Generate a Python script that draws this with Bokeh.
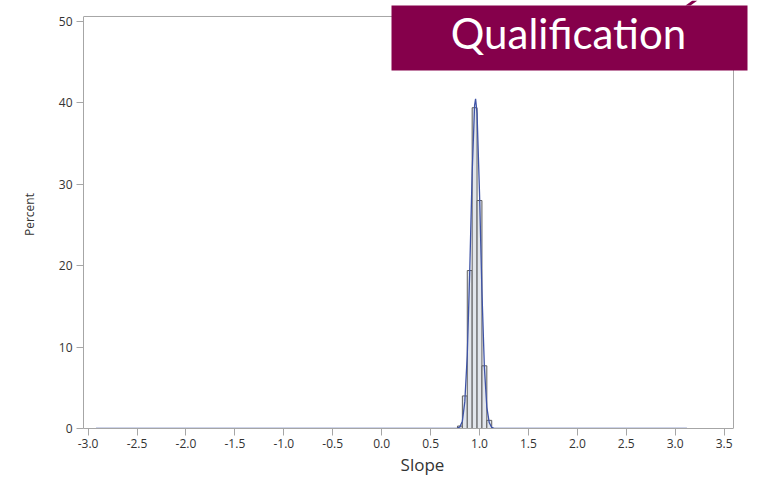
from bokeh.plotting import figure
from bokeh.models import (FixedTicker, PrintfTickFormatter, Label, Range1d, ColumnDataSource,
                          BoxAnnotation, PolyAnnotation, Title)
from bokeh.embed import file_html
from bokeh.resources import INLINE

# ---- data ----
bin_centers = [0.80, 0.85, 0.90, 0.95, 1.00, 1.05, 1.10]
bin_percent = [0.3, 4.0, 19.4, 39.4, 28.0, 7.7, 1.0]
bin_width = 0.05

curve_x = [-2.92, 0.75, 0.775, 0.80, 0.825, 0.85, 0.875, 0.90, 0.925, 0.95, 0.96,
           0.975, 1.00, 1.025, 1.05, 1.075, 1.10, 1.125, 1.15, 1.175, 3.12]
curve_y = [0, 0, 0.05, 0.2, 0.9, 3.3, 9.0, 19.2, 31.4, 39.7, 40.5,
           38.7, 29.0, 16.8, 7.5, 2.6, 0.7, 0.14, 0.02, 0, 0]

x_ticks = [-3.0, -2.5, -2.0, -1.5, -1.0, -0.5, 0.0, 0.5, 1.0, 1.5, 2.0, 2.5, 3.0, 3.5]
y_ticks = [0, 10, 20, 30, 40, 50]

x_label = "Slope"
y_label = "Percent"
title_text = "Qualification"

FRAME = "#a6a6a6"
TEXT = "#333333"
MAROON = "#85004b"

# axis box extents (the plotting area of the original chart)
X0, X1 = -3.047, 3.596
Y0, Y1 = 0.0, 50.6

# the frame is stretched to the top and right canvas edges so that the
# title box can be drawn outside the original axis box
p = figure(width=761, height=487, output_backend="svg", toolbar_location=None,
           x_range=Range1d(X0, 3.882), y_range=Range1d(Y0, 52.565),
           min_border_left=83, min_border_right=0, min_border_top=0,
           min_border_bottom=59)

p.grid.visible = False
p.outline_line_color = None
p.background_fill_color = "white"
p.border_fill_color = "white"

# top and right sides of the axis box
p.line([X0, X1, X1], [Y1, Y1, Y0], line_color=FRAME, line_width=1)

src = ColumnDataSource(dict(
    left=[c - bin_width / 2 for c in bin_centers],
    right=[c + bin_width / 2 for c in bin_centers],
    top=bin_percent,
    bottom=[0] * len(bin_centers)))
p.quad(left="left", right="right", top="top", bottom="bottom", source=src,
       fill_color="#dfe3ea", fill_alpha=0.9, line_color="#5e5e5e", line_width=1)

p.line(curve_x, curve_y, line_color="#3e53a6", line_width=1.3)

for ax in (p.xaxis[0], p.yaxis[0]):
    ax.axis_line_color = FRAME
    ax.major_tick_line_color = FRAME
    ax.major_tick_out = 7
    ax.major_tick_in = 0
    ax.minor_tick_line_color = None
    ax.major_label_text_color = TEXT
    ax.major_label_text_font = "Open Sans"
    ax.major_label_text_font_size = "12px"
    ax.axis_label_text_color = TEXT
    ax.axis_label_text_font = "Open Sans"
    ax.axis_label_text_font_style = "normal"

p.xaxis.bounds = (X0, X1)
p.xaxis.ticker = FixedTicker(ticks=x_ticks)
p.xaxis.formatter = PrintfTickFormatter(format="%.1f")
p.xaxis.major_label_standoff = 3

# x-axis label as a below title so it can be centred under the axis box
p.add_layout(Title(text=x_label, align="center", offset=-8, standoff=0,
                   text_font="Open Sans", text_font_size="17px",
                   text_font_style="normal", text_color=TEXT), "below")

p.yaxis.bounds = (Y0, Y1)
p.yaxis.ticker = FixedTicker(ticks=y_ticks)
p.yaxis.axis_label = y_label
p.yaxis.axis_label_text_font_size = "12px"
p.yaxis.major_label_standoff = 4
p.yaxis.axis_label_standoff = 18

# title box overlay (canvas pixel units)
p.add_layout(BoxAnnotation(left=391, right=747, top=5, bottom=70,
                           left_units="canvas", right_units="canvas",
                           top_units="canvas", bottom_units="canvas",
                           fill_color=MAROON, fill_alpha=1.0, line_color=None,
                           level="overlay"))
p.add_layout(PolyAnnotation(xs=[685, 692, 697, 690], ys=[5, 0, 0, 5],
                            xs_units="canvas", ys_units="canvas",
                            fill_color=MAROON, fill_alpha=1.0, line_color=None,
                            level="overlay"))
p.add_layout(Label(x=568, y=32, x_units="canvas", y_units="canvas", text=title_text,
                   text_color="white", text_font="Lato", text_font_size="42px",
                   text_align="center", text_baseline="alphabetic", level="overlay"))

open("out.html", "w").write(file_html(p, INLINE))
